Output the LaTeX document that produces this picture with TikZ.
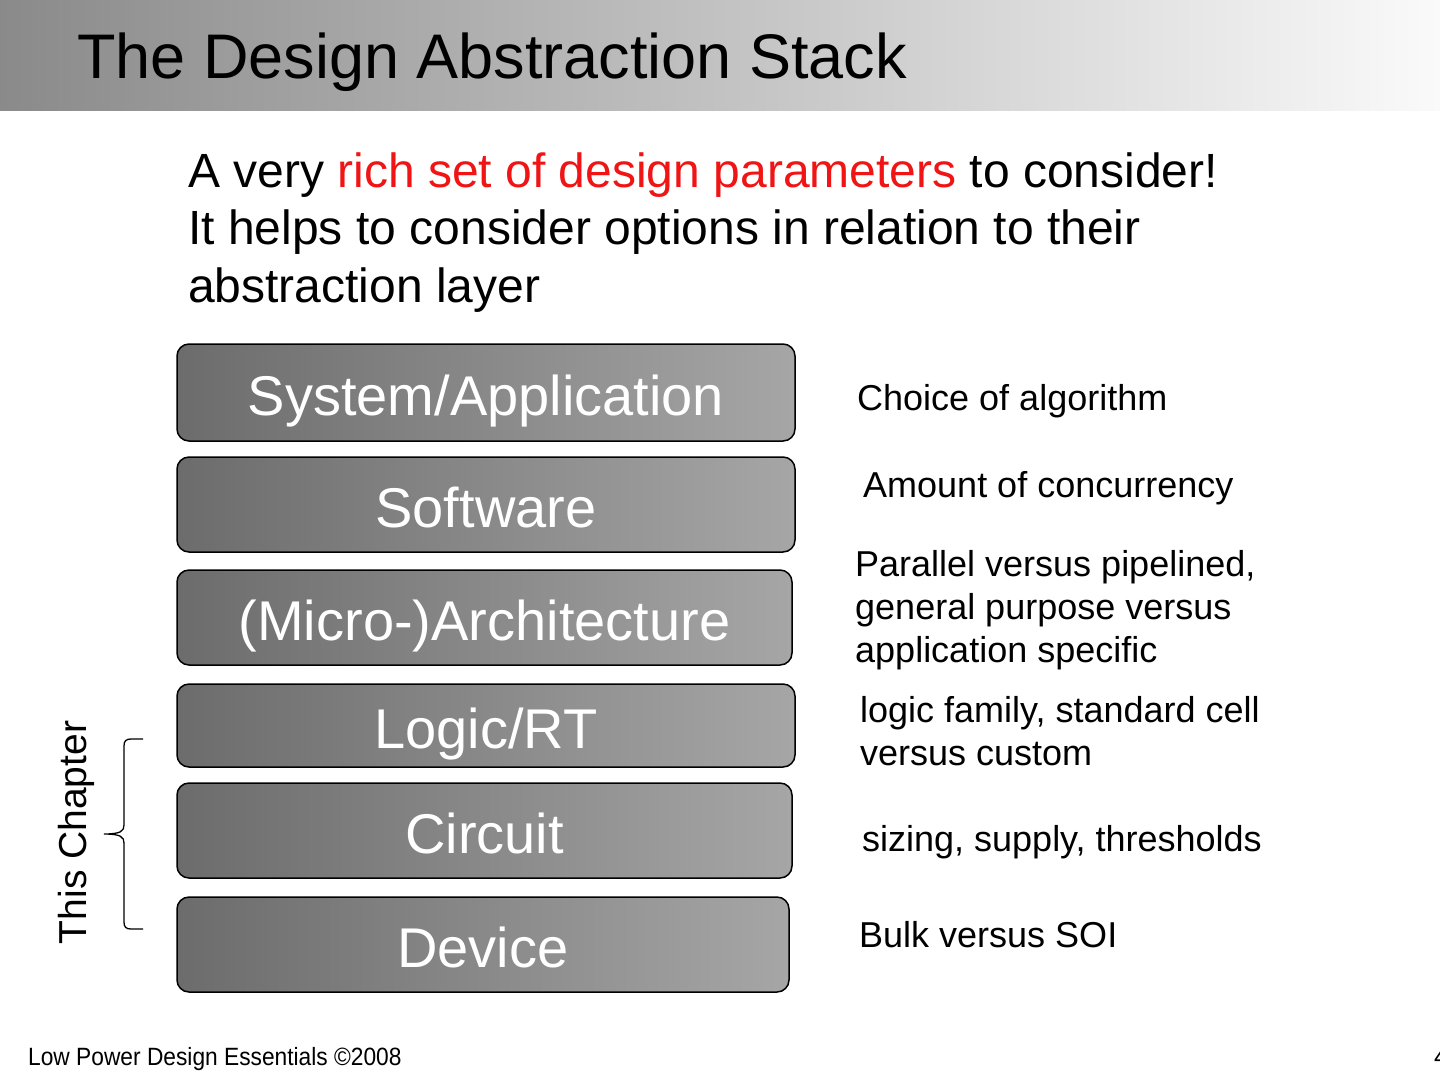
\documentclass[tikz,border=0pt]{standalone}
\usepackage{fontspec}
\setmainfont{Liberation Sans}
\newfontfamily\narrowfont[FakeStretch=0.91]{Liberation Sans}
\definecolor{titleL}{RGB}{138,138,138}
\definecolor{titleR}{RGB}{250,250,250}
\definecolor{boxL}{RGB}{108,108,108}
\definecolor{boxR}{RGB}{166,166,166}
\definecolor{hired}{RGB}{240,20,20}
\begin{document}
\begin{tikzpicture}[x=1pt,y=-1pt,
  layer/.style={draw=black, line width=1.5pt, rounded corners=12pt,
    left color=boxL, right color=boxR, text=white,
    font=\fontsize{56}{67}\selectfont, text height=45pt, text depth=0pt, inner sep=0pt},
  note/.style={anchor=base west, inner sep=0pt, align=left,
    font=\fontsize{36}{43}\selectfont},
  plain/.style={anchor=base west, inner sep=0pt}]
\useasboundingbox (0,0) rectangle (1440,1080);
\fill[white] (0,0) rectangle (1440,1080);
% title bar
\shade[left color=titleL, right color=titleR] (0,0) rectangle (1440,110);
\node[plain, font=\fontsize{63}{75}\selectfont] (title) at (77,78) {The Design Abstraction Stack};
% intro (base anchor = baseline of last line)
\node[plain, align=left, font=\fontsize{48}{57.5}\selectfont] (intro) at (188,302)
  {A very \textcolor{hired}{rich set of design parameters} to consider!\\
   It helps to consider options in relation to their\\
   abstraction layer};
% stack
\node[layer, minimum width=618pt, minimum height=97pt] (sys)   at (486,392.5) {System/Application};
\node[layer, minimum width=618pt, minimum height=95pt] (sw)    at (486,504.5) {Software};
\node[layer, minimum width=615pt, minimum height=95pt] (arch)  at (484.5,617.5) {(Micro-)Architecture};
\node[layer, minimum width=618pt, minimum height=83pt] (logic) at (486,725.5) {Logic/RT};
\node[layer, minimum width=615pt, minimum height=95pt] (circ)  at (484.5,830.5) {Circuit};
\node[layer, minimum width=612pt, minimum height=95pt] (dev)   at (483,944.5) {Device};
% notes (base anchor = baseline of last line)
\node[note] (n1) at (857,410) {Choice of algorithm};
\node[note] (n2) at (863,497) {Amount of concurrency};
\node[note] (n3) at (855,662) {Parallel versus pipelined,\\general purpose versus\\application specific};
\node[note] (n4) at (860,765) {logic family, standard cell\\versus custom};
\node[note] (n5) at (862,851) {sizing, supply, thresholds};
\node[note] (n6) at (859,947) {Bulk versus SOI};
% brace
\draw[line width=1.3pt] (143,739) -- (131,739) .. controls (126,739) and (124,741) .. (124,746)
  -- (124,825) .. controls (124,831) and (121,834) .. (104,834)
  .. controls (121,834) and (124,837) .. (124,843)
  -- (124,922) .. controls (124,927) and (126,929) .. (131,929) -- (143,929);
\node[anchor=base, inner sep=0pt, rotate=90, font=\fontsize{39}{47}\selectfont] (chap) at (86,832.5) {This Chapter};
% footer
\node[plain, font=\narrowfont\fontsize{25}{30}\selectfont] (foot) at (28,1065) {Low Power Design Essentials ©2008};
\node[plain, font=\fontsize{25}{30}\selectfont] (pnum) at (1434,1065) {4};
\end{tikzpicture}
\end{document}
